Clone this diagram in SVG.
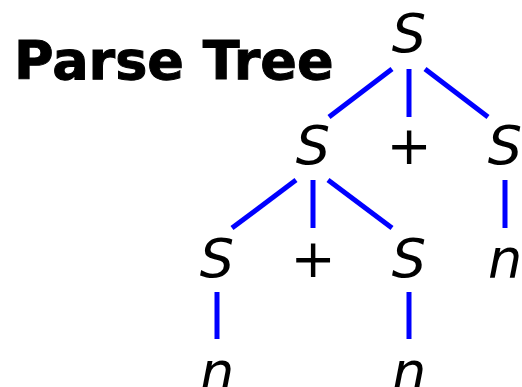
<svg xmlns="http://www.w3.org/2000/svg" width="522" height="387" viewBox="0 0 522 387">
<style>
.t{font-family:"DejaVu Sans","Verdana",sans-serif;font-size:54px;fill:#000;text-anchor:middle}
.i{font-style:italic}
.title{font-family:"DejaVu Sans","Verdana",sans-serif;font-weight:bold;font-size:54px;fill:#000;stroke:#000;stroke-width:1}
.e{stroke:#0000ff;stroke-width:5;fill:none}
</style>
<rect width="522" height="387" fill="#fff"/>
<g id="title"><text class="title" x="14" y="79">Parse Tree</text></g>
<g id="connectors">
<line class="e" x1="392" y1="69" x2="329" y2="117"/>
<line class="e" x1="409" y1="69" x2="409" y2="117"/>
<line class="e" x1="425" y1="69" x2="488" y2="117"/>
<line class="e" x1="296" y1="180" x2="232" y2="228"/>
<line class="e" x1="313" y1="180" x2="313" y2="228"/>
<line class="e" x1="328" y1="180" x2="392" y2="228"/>
<line class="e" x1="505" y1="180" x2="505" y2="228"/>
<line class="e" x1="217" y1="292" x2="217" y2="339"/>
<line class="e" x1="409" y1="292" x2="409" y2="339"/>
</g>
<g id="root"><text class="t i" x="409" y="52">S</text></g>
<g id="s1"><text class="t i" x="313" y="164">S</text></g>
<g id="plus1"><text class="t" x="409" y="164">+</text></g>
<g id="s2"><text class="t i" x="505" y="164">S</text></g>
<g id="s11"><text class="t i" x="217" y="277">S</text></g>
<g id="plus2"><text class="t" x="313" y="277">+</text></g>
<g id="s12"><text class="t i" x="409" y="277">S</text></g>
<g id="n2"><text class="t i" x="505" y="277">n</text></g>
<g id="n11"><text class="t i" x="217" y="390">n</text></g>
<g id="n12"><text class="t i" x="409" y="390">n</text></g>
</svg>
